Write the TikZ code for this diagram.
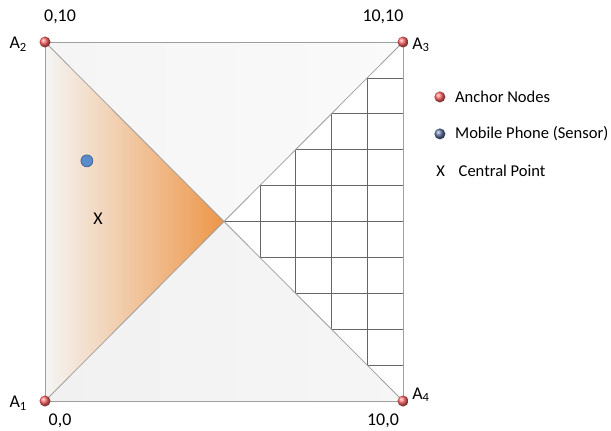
\documentclass[tikz,border=0pt]{standalone}
\usepackage{fontspec}
\setmainfont{Carlito}
\definecolor{legblue}{RGB}{95,115,165}
\begin{document}
\begin{tikzpicture}[x=35.8bp,y=35.9bp,
  lbl/.style={font=\fontsize{18}{20}\selectfont, inner sep=0pt},
  leg/.style={font=\fontsize{16.6}{19}\selectfont, inner sep=0pt, anchor=west},
  anchorball/.style={circle, inner sep=0pt, minimum size=11bp, shading=ball, ball color=red!60!white},
  phoneball/.style={circle, inner sep=0pt, minimum size=11bp, shading=ball, ball color=legblue},
  edge/.style={draw=gray!75, line width=0.8bp},
  gridline/.style={draw=black!60, line width=0.6bp}]
\useasboundingbox (-1.257,-0.808) rectangle (15.81,11.17);
% corner coordinates
\coordinate (p1) at (0,0);
\coordinate (p2) at (0,10);
\coordinate (p3) at (10,10);
\coordinate (p4) at (10,0);
\coordinate (c) at (5,5);
% regions
\shade[left color=gray!8, right color=gray!4] (p2) -- (p3) -- (c) -- cycle;
\shade[left color=gray!11, right color=blue!3!gray!7] (p1) -- (c) -- (p4) -- cycle;
\shade[left color=gray!8!white, right color={rgb,255:red,237;green,150;blue,72}] (p1) -- (p2) -- (c) -- cycle;
% grid in right triangle
\begin{scope}
  \clip (c) -- (p3) -- (p4) -- cycle;
  \foreach \i in {6,7,8,9} \draw[gridline] (\i,0) -- (\i,10);
  \foreach \j in {1,...,9} \draw[gridline] (5,\j) -- (10,\j);
\end{scope}
% outline and diagonals
\draw[edge] (p1) rectangle (p3);
\draw[edge] (p1) -- (p3);
\draw[edge] (p2) -- (p4);
% anchors
\node[anchorball] (a1) at (p1) {};
\node[anchorball] (a2) at (p2) {};
\node[anchorball] (a3) at (p3) {};
\node[anchorball] (a4) at (p4) {};
% mobile phone and central point
\node[circle, inner sep=0pt, minimum size=12bp, fill={rgb,255:red,90;green,140;blue,200}, draw={rgb,255:red,60;green,90;blue,140}, line width=0.6bp] (phone) at (1.17,6.69) {};
\node[lbl] (cp) at (1.48,5.07) {X};
% labels
\node[lbl] (l2) at (0.42,10.70) {0,10};
\node[lbl] (n2) at (-0.75,9.94) {A\textsubscript{2}};
\node[lbl] (l3) at (9.44,10.70) {10,10};
\node[lbl] (n3) at (10.50,9.92) {A\textsubscript{3}};
\node[lbl] (n1) at (-0.75,-0.06) {A\textsubscript{1}};
\node[lbl] (l1) at (0.42,-0.56) {0,0};
\node[lbl] (n4) at (10.50,0.17) {A\textsubscript{4}};
\node[lbl] (l4) at (9.44,-0.56) {10,0};
% legend
\node[anchorball] (k1) at (11.03,8.47) {};
\node[phoneball] (k2) at (11.03,7.44) {};
\node[leg] (k3) at (10.93,6.41) {X};
\node[leg] (t1) at (11.45,8.47) {Anchor Nodes};
\node[leg] (t2) at (11.45,7.44) {Mobile Phone (Sensor)};
\node[leg] (t3) at (11.55,6.41) {Central Point};
\end{tikzpicture}
\end{document}
